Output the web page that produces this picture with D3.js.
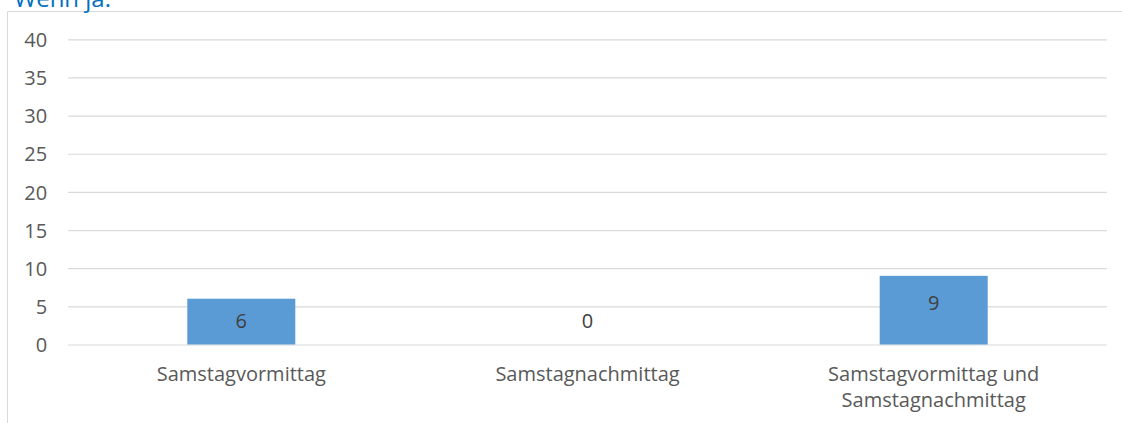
<!DOCTYPE html>
<html>
<head>
<meta charset="utf-8">
<script src="https://cdn.jsdelivr.net/npm/d3@7/dist/d3.min.js"></script>
<style>
  body { margin: 0; background: #fff; }
  svg { display: block; font-family: "Open Sans", sans-serif; }
</style>
</head>
<body>
<div id="chart"></div>
<script>
var categories = ["Samstagvormittag", "Samstagnachmittag", "Samstagvormittag und\nSamstagnachmittag"];
var values = [6, 0, 9];
var yTicks = [0, 5, 10, 15, 20, 25, 30, 35, 40];

var width = 1122,
    height = 423;

var plot = {left: 68.2, right: 1106.8, top: 39.3, bottom: 344.5};

var svg = d3.select("#chart").append("svg")
    .attr("width", width)
    .attr("height", height);

// chart frame (top and left edges visible)
svg.append("path")
    .attr("d", "M7.5,423V11.5H1122")
    .attr("fill", "none")
    .attr("stroke", "#d9d9d9")
    .attr("stroke-width", 1);

// title, cut off at the top
svg.append("text")
    .attr("x", 14)
    .attr("y", 7)
    .attr("fill", "#0070c0")
    .style("font-size", "24px")
    .text("Wenn ja:");

var x = d3.scaleBand()
    .domain(categories)
    .range([plot.left, plot.right])
    .paddingInner(0.688)
    .paddingOuter(0.344);

var y = d3.scaleLinear()
    .domain([0, 40])
    .range([plot.bottom, plot.top]);

// gridlines + tick labels
var yAxis = svg.append("g")
    .attr("transform", "translate(" + plot.left + ",0)")
    .call(d3.axisLeft(y)
        .tickValues(yTicks)
        .tickSize(-(plot.right - plot.left))
        .tickPadding(21));

yAxis.select(".domain").remove();
yAxis.selectAll(".tick line")
    .attr("stroke", "#d9d9d9")
    .attr("stroke-width", 1.2);
yAxis.selectAll(".tick text")
    .attr("fill", "#595959")
    .attr("dy", "0.36em")
    .style("font-size", "20px")
    .style("font-family", "'Open Sans', sans-serif");

// bars
svg.selectAll(".bar")
    .data(values)
    .enter().append("rect")
    .attr("class", "bar")
    .attr("x", function (d, i) { return x(categories[i]); })
    .attr("y", function (d) { return y(d); })
    .attr("width", x.bandwidth())
    .attr("height", function (d) { return y(0) - y(d); })
    .attr("fill", "#5b9bd5");

// value labels (inside end, kept above the baseline)
svg.selectAll(".val")
    .data(values)
    .enter().append("text")
    .attr("class", "val")
    .attr("x", function (d, i) { return x(categories[i]) + x.bandwidth() / 2; })
    .attr("y", function (d) { return Math.min(y(d) + 34, y(0) - 16.5); })
    .attr("text-anchor", "middle")
    .attr("fill", "#404040")
    .style("font-size", "20px")
    .text(function (d) { return d; });

// category labels
var xl = svg.selectAll(".cat")
    .data(categories)
    .enter().append("text")
    .attr("class", "cat")
    .attr("text-anchor", "middle")
    .attr("fill", "#595959")
    .style("font-size", "20px");

xl.each(function (d) {
    var t = d3.select(this);
    var cx = x(d) + x.bandwidth() / 2;
    d.split("\n").forEach(function (line, j) {
        t.append("tspan")
            .attr("x", cx)
            .attr("y", 380.5 + j * 26)
            .text(line);
    });
});
</script>
</body>
</html>
